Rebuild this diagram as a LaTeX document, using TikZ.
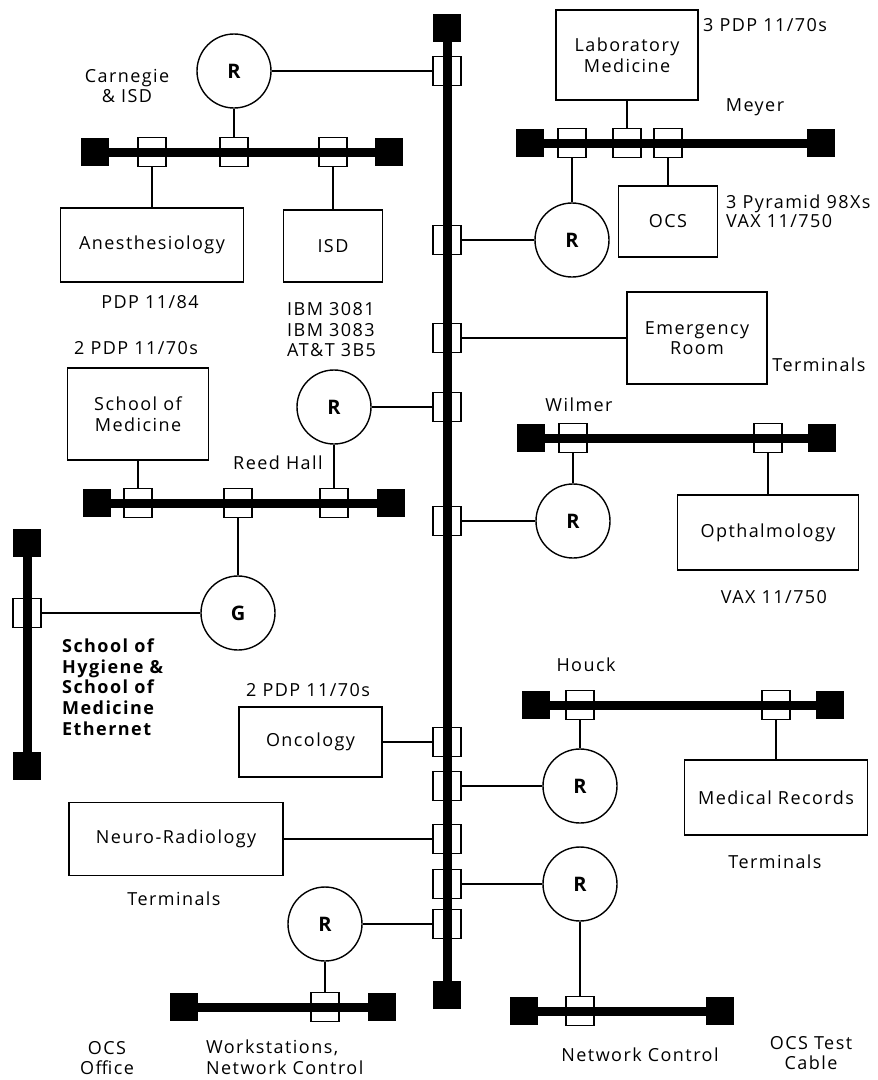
\documentclass[tikz,border=0pt]{standalone}
\usepackage{fontspec}
\setmainfont{Open Sans}[LetterSpace=8]
\begin{document}
\begin{tikzpicture}[x=1pt,y=-1pt,
  every node/.style={font=\fontsize{18}{20.5}\selectfont},
  dev/.style={draw, line width=1.5pt, rectangle, inner sep=0pt, align=center},
  rtr/.style={draw, circle, line width=1.4pt, minimum size=74pt, inner sep=0pt,
              font=\fontsize{20}{22}\selectfont\bfseries},
  tx/.style={draw, rectangle, line width=1.1pt, minimum width=28pt, minimum height=29pt, inner sep=0pt},
  term/.style={fill=black, rectangle, minimum size=28pt, inner sep=0pt},
  bus/.style={line width=9pt},
  link/.style={line width=1.3pt},
  lbl/.style={inner sep=0pt, align=center},
  lbll/.style={inner sep=0pt, align=left, anchor=west},
]
\fill[white] (0,0) rectangle (878,1080);
\useasboundingbox (0,0) rectangle (878,1080);

% ---------- transceivers (drawn first, cables pass over them) ----------
% backbone
\foreach \n/\y in {1/71,2/240,3/338,4/407,5/521,6/742,7/786,8/839,9/884,10/924}
  \node[tx] (bb\n) at (447,\y) {};
% Carnegie & ISD segment
\node[tx] (ca1) at (152,152) {};
\node[tx] (ca2) at (234,152) {};
\node[tx] (ca3) at (333,152) {};
% Meyer segment
\node[tx] (me1) at (572,143) {};
\node[tx] (me2) at (627,143) {};
\node[tx] (me3) at (668,143) {};
% Reed Hall segment
\node[tx] (re1) at (138,503) {};
\node[tx] (re2) at (238,503) {};
\node[tx] (re3) at (334,503) {};
% Wilmer segment
\node[tx] (wi1) at (573,438) {};
\node[tx] (wi2) at (768,438) {};
% School of Hygiene ethernet
\node[tx] (sh1) at (27,613) {};
% Houck segment
\node[tx] (ho1) at (580,705) {};
\node[tx] (ho2) at (776,705) {};
% OCS office segment
\node[tx] (of1) at (325,1007) {};
% OCS test cable
\node[tx] (tc1) at (580,1011) {};

% ---------- terminators and thick cables ----------
\node[term] (bbT) at (447,28) {};
\node[term] (bbB) at (447,995) {};
\draw[bus] (bbT) -- (bbB);

\node[term] (caL) at (95,152) {};
\node[term] (caR) at (389,152) {};
\draw[bus] (caL) -- (caR);

\node[term] (meL) at (530,143) {};
\node[term] (meR) at (821,143) {};
\draw[bus] (meL) -- (meR);

\node[term] (reL) at (97,503) {};
\node[term] (reR) at (391,503) {};
\draw[bus] (reL) -- (reR);

\node[term] (wiL) at (531,438) {};
\node[term] (wiR) at (822,438) {};
\draw[bus] (wiL) -- (wiR);

\node[term] (shT) at (27,543) {};
\node[term] (shB) at (27,766) {};
\draw[bus] (shT) -- (shB);

\node[term] (hoL) at (536,705) {};
\node[term] (hoR) at (830,705) {};
\draw[bus] (hoL) -- (hoR);

\node[term] (ofL) at (184,1007) {};
\node[term] (ofR) at (382,1007) {};
\draw[bus] (ofL) -- (ofR);

\node[term] (tcL) at (524,1011) {};
\node[term] (tcR) at (720,1011) {};
\draw[bus] (tcL) -- (tcR);

% ---------- hosts ----------
\node[dev, minimum width=183pt, minimum height=74pt] (anes) at (152,245) {Anesthesiology};
\node[dev, minimum width=99pt, minimum height=72pt] (isd) at (333,246) {ISD};
\node[dev, minimum width=142pt, minimum height=90pt] (lab) at (627,55) {Laboratory\\Medicine};
\node[dev, minimum width=99pt, minimum height=71pt] (ocs) at (668,221.5) {OCS};
\node[dev, minimum width=140pt, minimum height=92pt] (er) at (697,338) {Emergency\\Room};
\node[dev, minimum width=141pt, minimum height=92pt] (som) at (138,414) {School of\\Medicine};
\node[dev, minimum width=181pt, minimum height=75pt] (oph) at (768,532.5) {Opthalmology};
\node[dev, minimum width=143pt, minimum height=70pt] (onc) at (310.5,742) {Oncology};
\node[dev, minimum width=183pt, minimum height=75pt] (mr) at (776,797.5) {Medical Records};
\node[dev, minimum width=214pt, minimum height=73pt] (neuro) at (176,839) {Neuro-Radiology};

% ---------- routers and gateway ----------
\node[rtr] (rA) at (234,71) {R};
\node[rtr] (rB) at (572,240) {R};
\node[rtr] (rC) at (334,407) {R};
\node[rtr] (rD) at (573,521) {R};
\node[rtr] (gw) at (238,613) {G};
\node[rtr] (rE) at (580,786) {R};
\node[rtr] (rF) at (580,884) {R};
\node[rtr] (rG) at (325,924) {R};

% ---------- drop cables ----------
\draw[link] (rA) -- (bb1);
\draw[link] (rA) -- (ca2);
\draw[link] (ca1) -- (anes);
\draw[link] (ca3) -- (isd);
\draw[link] (lab) -- (me2);
\draw[link] (me3) -- (ocs);
\draw[link] (me1) -- (rB);
\draw[link] (bb2) -- (rB);
\draw[link] (bb3) -- (er);
\draw[link] (rC) -- (bb4);
\draw[link] (rC) -- (re3);
\draw[link] (som) -- (re1);
\draw[link] (re2) -- (gw);
\draw[link] (sh1) -- (gw);
\draw[link] (wi1) -- (rD);
\draw[link] (bb5) -- (rD);
\draw[link] (wi2) -- (oph);
\draw[link] (onc) -- (bb6);
\draw[link] (ho1) -- (rE);
\draw[link] (bb7) -- (rE);
\draw[link] (ho2) -- (mr);
\draw[link] (neuro) -- (bb8);
\draw[link] (bb9) -- (rF);
\draw[link] (rF) -- (tc1);
\draw[link] (rG) -- (bb10);
\draw[link] (rG) -- (of1);

% ---------- labels ----------
\node[lbl] (lCar) at (127,86) {Carnegie\\\& ISD};
\node[lbl] (lLab) at (765,25) {3 PDP 11/70s};
\node[lbl] (lMey) at (755,107) {Meyer};
\node[lbll, font=\fontsize{18}{18.5}\selectfont] (lOcs) at (726,211) {3 Pyramid 98Xs\\VAX 11/750};
\node[lbl] (lAne) at (150,302) {PDP 11/84};
\node[lbll] (lIbm) at (287,330) {IBM 3081\\IBM 3083\\AT\&T 3B5};
\node[lbl] (lSom) at (136,348) {2 PDP 11/70s};
\node[lbl] (lEr) at (819,365) {Terminals};
\node[lbl] (lWil) at (579,405) {Wilmer};
\node[lbl] (lRee) at (278,463) {Reed Hall};
\node[lbl] (lOph) at (774,597) {VAX 11/750};
\node[lbll, font=\fontsize{18}{20.8}\selectfont\bfseries] (lHyg) at (62,687)
  {School of\\Hygiene \&\\School of\\Medicine\\Ethernet};
\node[lbl] (lHou) at (586,665) {Houck};
\node[lbl] (lOnc) at (308,690) {2 PDP 11/70s};
\node[lbl] (lMr) at (775,862) {Terminals};
\node[lbl] (lNeu) at (174,899) {Terminals};
\node[lbl] (lOff) at (107,1058) {OCS\\Office};
\node[lbll] (lWs) at (206,1057) {Workstations,\\Network Control};
\node[lbl] (lNc) at (640,1055) {Network Control};
\node[lbl] (lTc) at (811,1053) {OCS Test\\Cable};
\end{tikzpicture}
\end{document}
